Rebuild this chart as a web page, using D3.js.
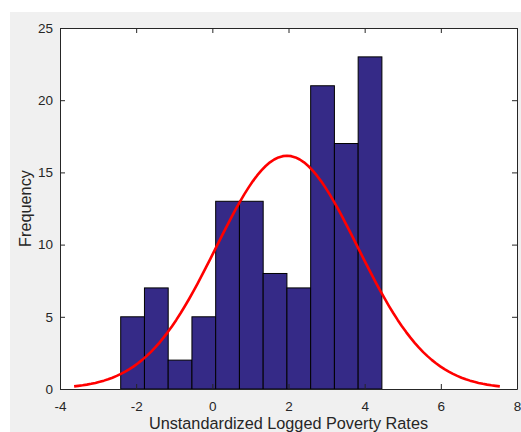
<!DOCTYPE html>
<html>
<head>
<meta charset="utf-8">
<script src="https://cdn.jsdelivr.net/npm/d3@7"></script>
<style>
  html, body { margin: 0; padding: 0; background: #ffffff; }
  svg { display: block; }
  text { font-family: "Liberation Sans", Arial, Helvetica, sans-serif; }
</style>
</head>
<body>
<svg id="chart" width="521" height="432"></svg>
<script>
// Histogram bin edges (left edge of the first bin and common bin width)
const binStart = -2.406;
const binWidth = 0.6235;
// Counts per bin
const counts = [5, 7, 2, 5, 13, 13, 8, 7, 21, 17, 23];
// Fitted normal distribution parameters
const fitMean = 1.96;
const fitSigma = 1.863;
// Axis ticks
const xTicks = [-4, -2, 0, 2, 4, 6, 8];
const yTicks = [0, 5, 10, 15, 20, 25];

const svg = d3.select("#chart");
const W = 521, H = 432;
const plot = { left: 60, top: 28, right: 517, bottom: 389 };

// Figure background
svg.append("rect").attr("x", 10).attr("y", 12).attr("width", W - 10).attr("height", H - 12)
  .attr("fill", "#f0f0f0");

const x = d3.scaleLinear().domain([-4, 8]).range([plot.left, plot.right]);
const y = d3.scaleLinear().domain([0, 25]).range([plot.bottom, plot.top]);

// Axes background
svg.append("rect").attr("x", plot.left).attr("y", plot.top)
  .attr("width", plot.right - plot.left).attr("height", plot.bottom - plot.top)
  .attr("fill", "#ffffff");

// Bars
const bins = counts.map((c, i) => ({ x0: binStart + i * binWidth, x1: binStart + (i + 1) * binWidth, c }));
svg.append("g").selectAll("rect").data(bins).join("rect")
  .attr("x", d => x(d.x0))
  .attr("y", d => y(d.c))
  .attr("width", d => x(d.x1) - x(d.x0))
  .attr("height", d => y(0) - y(d.c))
  .attr("fill", "#352a87")
  .attr("stroke", "#000000")
  .attr("stroke-width", 1);

// Normal fit scaled to the histogram (total count × bin width)
const total = d3.sum(counts);
const scale = total * binWidth / (fitSigma * Math.sqrt(2 * Math.PI));
const xs = d3.range(0, 101).map(i => fitMean - 3 * fitSigma + i * (6 * fitSigma) / 100);
const curve = xs.map(v => [v, scale * Math.exp(-0.5 * ((v - fitMean) / fitSigma) ** 2)]);
svg.append("path").datum(curve)
  .attr("fill", "none")
  .attr("stroke", "#ff0000")
  .attr("stroke-width", 2.6)
  .attr("stroke-linejoin", "round")
  .attr("d", d3.line().x(d => x(d[0])).y(d => y(d[1])));

// Axes with inward ticks on all sides
const axisColor = "#262626";
const tickLen = 5;
function styleAxis(g) {
  g.select(".domain").attr("stroke", axisColor);
  g.selectAll(".tick line").attr("stroke", axisColor);
  g.selectAll(".tick text").attr("fill", axisColor).style("font-size", "13.5px")
    .style("font-family", "'Liberation Sans', Arial, sans-serif");
}
svg.append("g").attr("transform", `translate(0,${plot.bottom})`)
  .call(d3.axisBottom(x).tickValues(xTicks).tickSizeInner(-tickLen).tickSizeOuter(0).tickPadding(12).tickFormat(d3.format("d")))
  .call(styleAxis);
svg.append("g").attr("transform", `translate(0,${plot.top})`)
  .call(d3.axisTop(x).tickValues(xTicks).tickSizeInner(-tickLen).tickSizeOuter(0).tickFormat(""))
  .call(styleAxis);
svg.append("g").attr("transform", `translate(${plot.left},0)`)
  .call(d3.axisLeft(y).tickValues(yTicks).tickSizeInner(-tickLen).tickSizeOuter(0).tickPadding(7))
  .call(styleAxis);
svg.append("g").attr("transform", `translate(${plot.right},0)`)
  .call(d3.axisRight(y).tickValues(yTicks).tickSizeInner(-tickLen).tickSizeOuter(0).tickFormat(""))
  .call(styleAxis);

// Plain hyphen for negative tick labels
svg.selectAll(".tick text").text(function () { return d3.select(this).text().replace("\u2212", "-"); });

// Axis labels
svg.append("text")
  .attr("x", (plot.left + plot.right) / 2).attr("y", 429)
  .attr("text-anchor", "middle").attr("fill", axisColor)
  .style("font-size", "16.25px")
  .text("Unstandardized Logged Poverty Rates");
svg.append("text")
  .attr("transform", `translate(31,${(plot.top + plot.bottom) / 2}) rotate(-90)`)
  .attr("text-anchor", "middle").attr("fill", axisColor)
  .style("font-size", "16.25px")
  .text("Frequency");
</script>
</body>
</html>
